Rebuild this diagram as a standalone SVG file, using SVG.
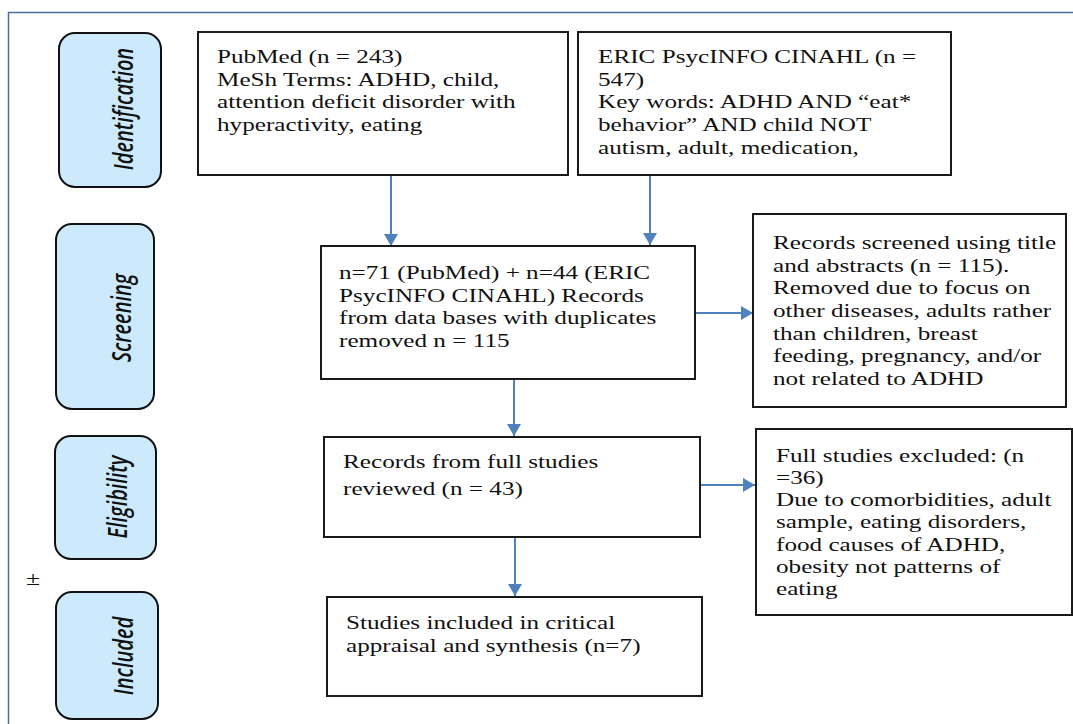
<svg xmlns="http://www.w3.org/2000/svg" width="1073" height="724" viewBox="0 0 1073 724">
<style>
.box{fill:#fff;stroke:#1a1a1a;stroke-width:2}
.pill{fill:#cdeafc;stroke:#111;stroke-width:2}
.t{font-family:"Liberation Serif","Times New Roman",serif;font-size:18px;fill:#111}
.pl{font-family:"Open Sans","Liberation Sans",sans-serif;font-style:italic;font-weight:600;font-size:20px;fill:#111;text-anchor:middle}
.con{stroke:#4f81bd;stroke-width:2;fill:none}
</style>
<defs>
<marker id="ah" viewBox="0 0 12 14" refX="12" refY="7" markerWidth="12" markerHeight="14" markerUnits="userSpaceOnUse" orient="auto">
<path d="M0,0 L12,7 L0,14 Z" fill="#4f81bd"/>
</marker>
</defs>
<rect width="1073" height="724" fill="#fff"/>
<g id="frame">
<path d="M8.5,724 V12.5 H1073" stroke="#4a70a8" stroke-width="1.5" fill="none"/>
</g>
<g id="connectors">
<line class="con" x1="391" y1="175" x2="391" y2="246" marker-end="url(#ah)"/>
<line class="con" x1="650" y1="175" x2="650" y2="245" marker-end="url(#ah)"/>
<line class="con" x1="514" y1="379" x2="514" y2="436" marker-end="url(#ah)"/>
<line class="con" x1="515" y1="537" x2="515" y2="596" marker-end="url(#ah)"/>
<line class="con" x1="695" y1="313" x2="753" y2="313" marker-end="url(#ah)"/>
<line class="con" x1="700" y1="485" x2="755" y2="485" marker-end="url(#ah)"/>
</g>
<g id="stage-identification">
<rect class="pill" x="59" y="33" width="102" height="154" rx="16"/>
<text class="pl" transform="translate(133,109) scale(1.35,1) rotate(-90)">Identification</text>
</g>
<g id="stage-screening">
<rect class="pill" x="56" y="224" width="98" height="185" rx="16"/>
<text class="pl" transform="translate(131,318) scale(1.35,1) rotate(-90)">Screening</text>
</g>
<g id="stage-eligibility">
<rect class="pill" x="55" y="436" width="101" height="123" rx="16"/>
<text class="pl" transform="translate(127,497) scale(1.35,1) rotate(-90)">Eligibility</text>
</g>
<g id="stage-included">
<rect class="pill" x="56" y="592" width="102" height="127" rx="16"/>
<text class="pl" transform="translate(133,656) scale(1.35,1) rotate(-90)">Included</text>
</g>
<g id="pm-symbol">
<text class="t" transform="translate(33,585) scale(1.43,1)" text-anchor="middle" font-size="19">±</text>
</g>
<g id="pubmed">
<rect class="box" x="198" y="32" width="370" height="143"/>
<text class="t" transform="translate(217,63) scale(1.4,1)"><tspan x="0" y="0">PubMed (n = 243)</tspan><tspan x="0" y="22.7">MeSh Terms: ADHD,  child,</tspan><tspan x="0" y="45.4">attention deficit disorder with</tspan><tspan x="0" y="68.1">hyperactivity, eating</tspan></text>
</g>
<g id="eric">
<rect class="box" x="578" y="32" width="373" height="143"/>
<text class="t" transform="translate(598,63) scale(1.4,1)"><tspan x="0" y="0">ERIC PsycINFO CINAHL  (n =</tspan><tspan x="0" y="22.7">547)</tspan><tspan x="0" y="45.4">Key words: ADHD AND “eat*</tspan><tspan x="0" y="68.1">behavior” AND child NOT</tspan><tspan x="0" y="90.8">autism, adult, medication,</tspan></text>
</g>
<g id="screening">
<rect class="box" x="321" y="246" width="374" height="133"/>
<text class="t" transform="translate(339,279) scale(1.4,1)"><tspan x="0" y="0">n=71 (PubMed) + n=44 (ERIC</tspan><tspan x="0" y="22.7">PsycINFO CINAHL)  Records</tspan><tspan x="0" y="45.4">from data bases with duplicates</tspan><tspan x="0" y="68.1">removed n = 115</tspan></text>
</g>
<g id="screen-excluded">
<rect class="box" x="753" y="214" width="313" height="193"/>
<text class="t" transform="translate(773,249) scale(1.4,1)"><tspan x="0" y="0">Records screened using title</tspan><tspan x="0" y="22.7">and abstracts (n = 115).</tspan><tspan x="0" y="45.4">Removed due to focus on</tspan><tspan x="0" y="68.1">other diseases, adults rather</tspan><tspan x="0" y="90.8">than children, breast</tspan><tspan x="0" y="113.5">feeding, pregnancy, and/or</tspan><tspan x="0" y="136.2">not related to ADHD</tspan></text>
</g>
<g id="eligibility">
<rect class="box" x="324" y="437" width="376" height="100"/>
<text class="t" transform="translate(343,468) scale(1.4,1)"><tspan x="0" y="0">Records from full studies</tspan><tspan x="0" y="27">reviewed (n = 43)</tspan></text>
</g>
<g id="full-excluded">
<rect class="box" x="756" y="429" width="316" height="186"/>
<text class="t" transform="translate(776,461.5) scale(1.4,1)"><tspan x="0" y="0">Full studies excluded: (n</tspan><tspan x="0" y="22.3">=36)</tspan><tspan x="0" y="44.6">Due to comorbidities, adult</tspan><tspan x="0" y="66.9">sample, eating disorders,</tspan><tspan x="0" y="89.2">food causes of ADHD,</tspan><tspan x="0" y="111.5">obesity not patterns of</tspan><tspan x="0" y="133.8">eating</tspan></text>
</g>
<g id="included">
<rect class="box" x="327" y="597" width="375" height="99"/>
<text class="t" transform="translate(346,629) scale(1.4,1)"><tspan x="0" y="0">Studies included in critical</tspan><tspan x="0" y="23">appraisal and synthesis (n=7)</tspan></text>
</g>
</svg>
